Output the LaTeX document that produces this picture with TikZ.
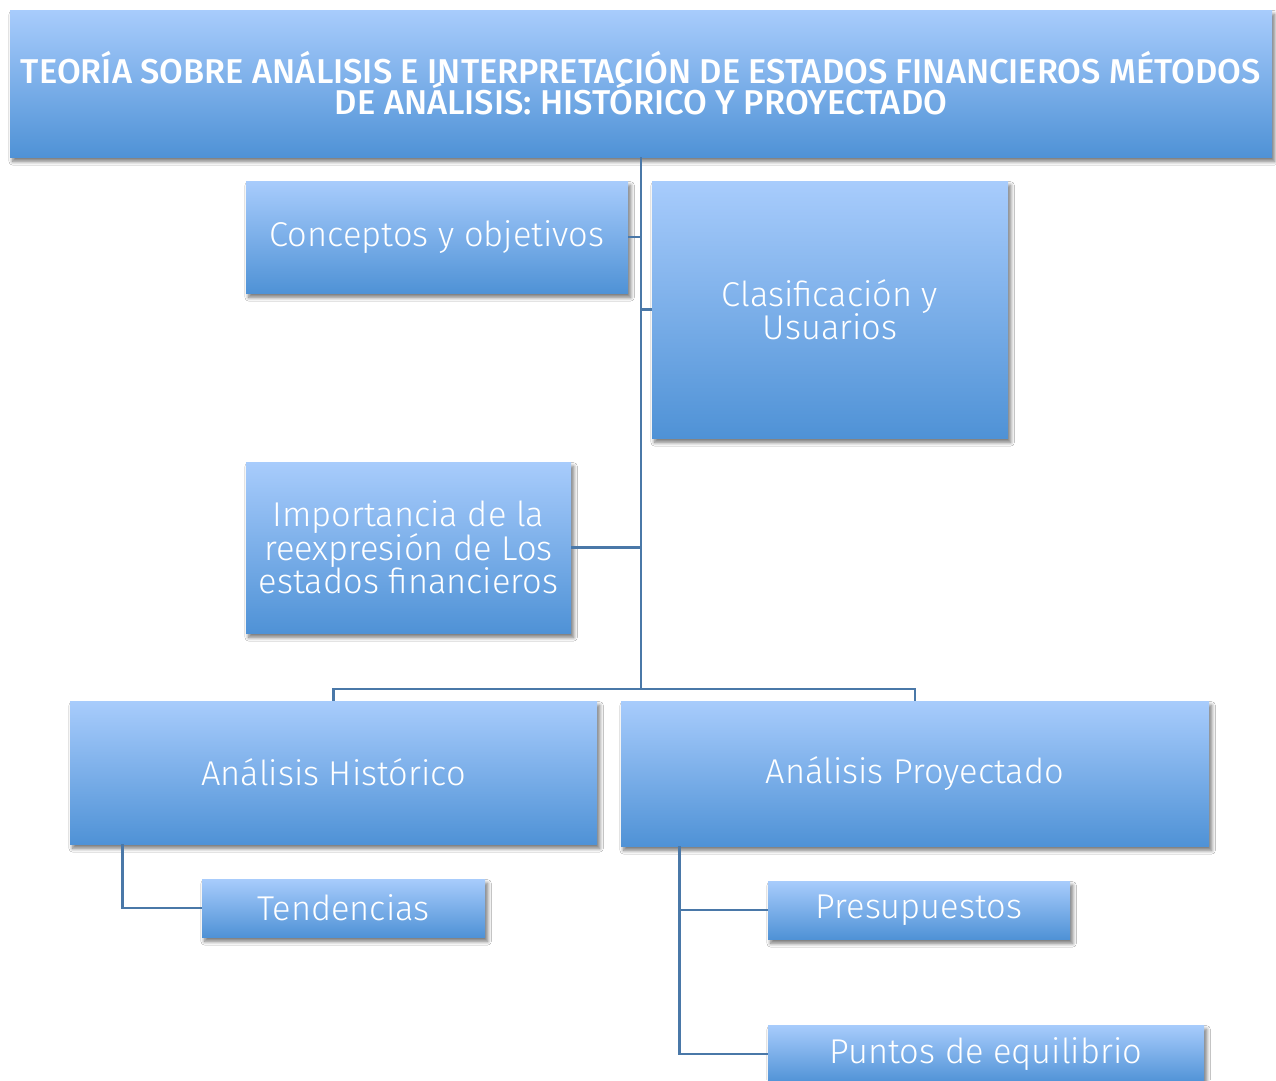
\documentclass[tikz,border=0pt]{standalone}
\usepackage{fontspec}
\setmainfont{Fira Sans}[UprightFont=* Light, BoldFont=* Medium]
\usetikzlibrary{shadows.blur}
\definecolor{topc}{HTML}{A8CCFC}
\definecolor{botc}{HTML}{4F92D6}
\definecolor{linec}{HTML}{4A78A8}
\tikzset{
  bx/.style n args={2}{minimum width=#1*0.02cm, minimum height=#2*0.02cm},
  box/.style={rectangle, inner sep=0pt, top color=topc, bottom color=botc, text=white,
    align=center, font=\fontsize{19.6}{17.5}\selectfont,
    blur shadow={shadow xshift=1.5pt, shadow yshift=-2.5pt, shadow blur steps=8, shadow opacity=55}},
  conn/.style={draw=linec, line width=1.3pt}
}
\begin{document}
\begin{tikzpicture}[x=0.02cm, y=-0.02cm]
\clip (0,0) rectangle (1276,1080);
\fill[white] (0,0) rectangle (1276,1080);
\node[box, bx={1262}{147}, font=\bfseries\fontsize{19.6}{17}\selectfont] (title) at (641,83.5)
  {TEORÍA SOBRE ANÁLISIS E INTERPRETACIÓN DE ESTADOS FINANCIEROS MÉTODOS\\[-2pt]DE ANÁLISIS: HISTÓRICO Y PROYECTADO};
\node[box, bx={382}{112}] (conc) at (437,237) {Conceptos y objetivos};
\node[box, bx={356}{257}] (clas) at (830,309.5) {Clasificación y\\[-1pt]Usuarios};
\node[box, bx={325}{171}] (imp) at (408.5,547.5) {Importancia de la\\[-1pt]reexpresión de Los\\[-1pt]estados financieros};
\node[box, bx={527}{143}] (hist) at (333.5,772.5) {Análisis Histórico};
\node[box, bx={588}{145}] (proy) at (915,773.5) {Análisis Proyectado};
\node[box, bx={283}{58}] (tend) at (343.5,908) {Tendencias};
\node[box, bx={302}{58}] (pres) at (919,910) {Presupuestos};
\node[box, bx={436}{58}] (pun) at (986,1054) {Puntos de equilibrio};
\coordinate (j) at (641,689);
\draw[conn] (title.south) -- (j);
\draw[conn] (title.south |- conc.east) -- (conc.east);
\draw[conn] (title.south |- clas.west) -- (clas.west);
\draw[conn] (title.south |- imp.east) -- (imp.east);
\draw[conn] (hist.north) -- (hist.north |- j) -- (proy.north |- j) -- (proy.north);
\draw[conn] ([xshift=1.06cm]hist.south west) |- (tend.west);
\draw[conn] ([xshift=1.18cm]proy.south west) |- (pres.west);
\draw[conn] ([xshift=1.18cm]proy.south west) |- (pun.west);
\end{tikzpicture}
\end{document}
